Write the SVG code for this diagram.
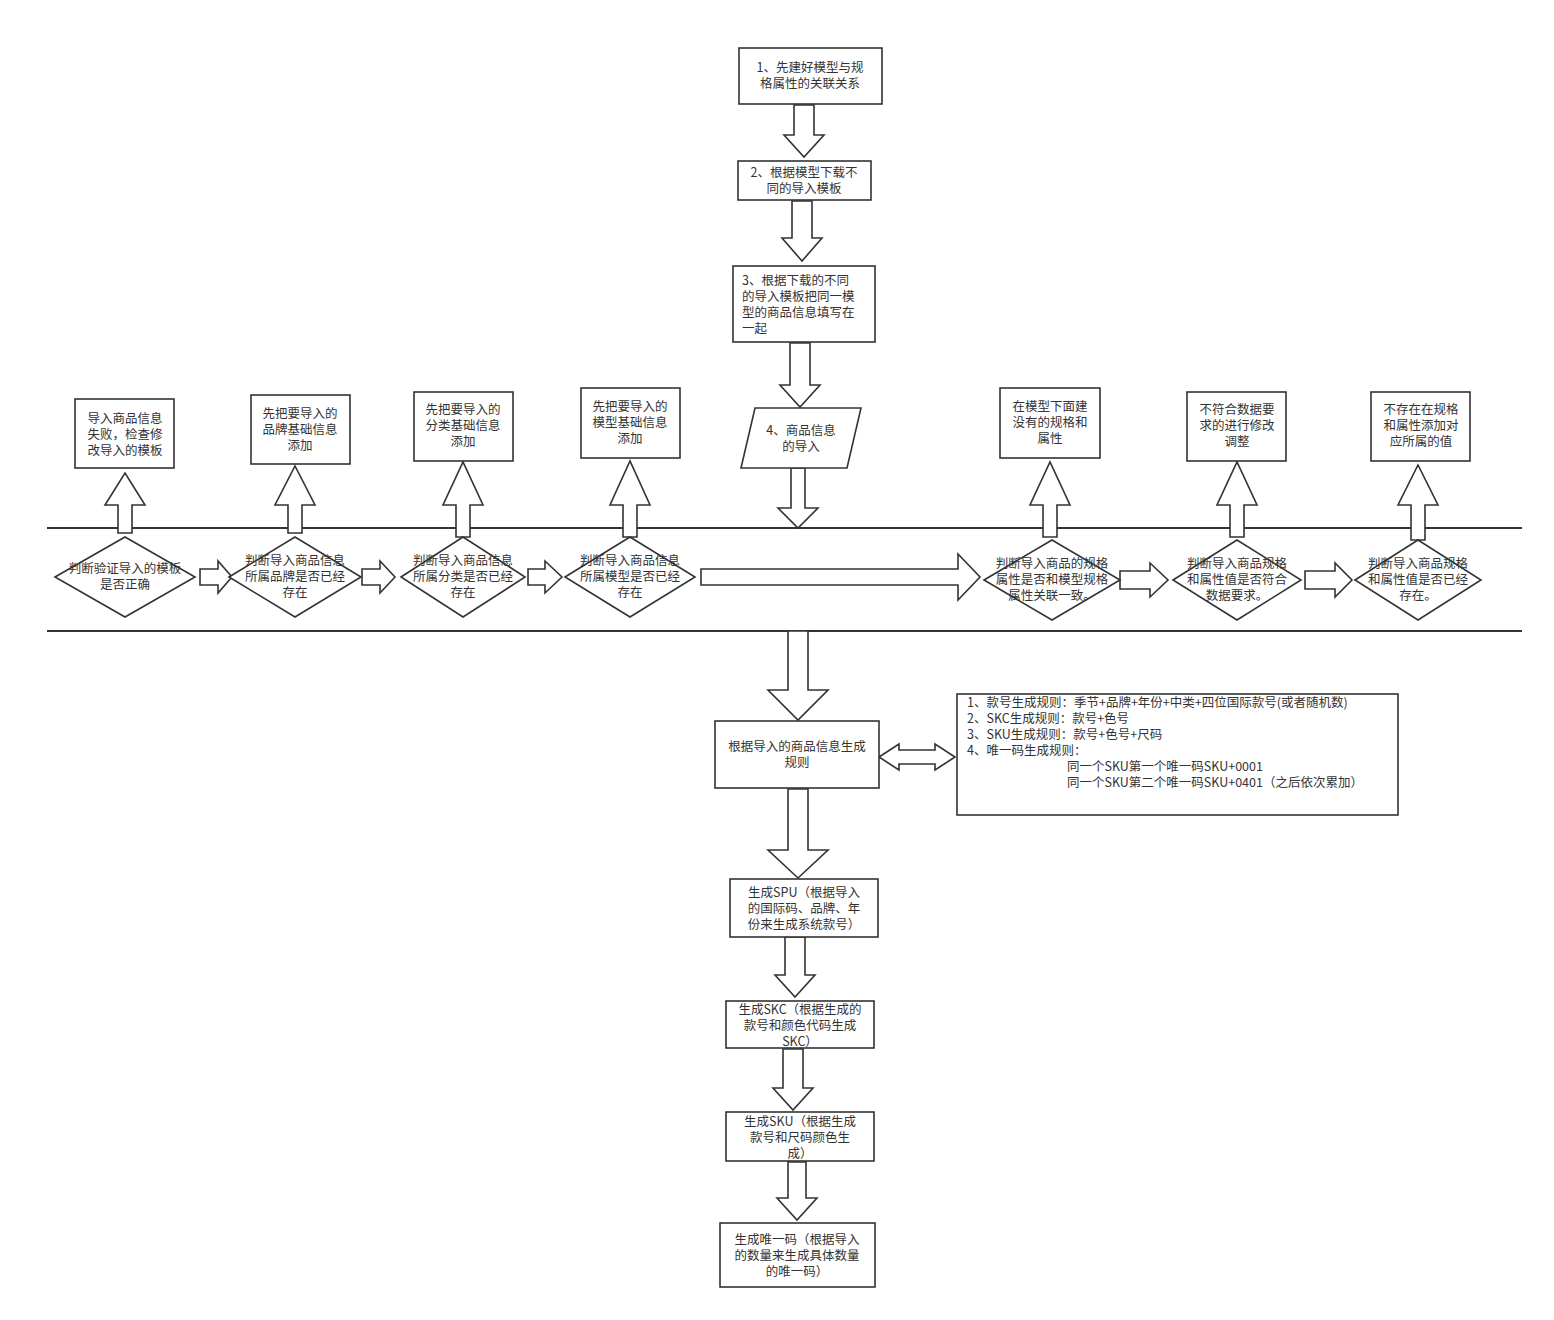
<svg xmlns="http://www.w3.org/2000/svg" width="1554" height="1320" viewBox="0 0 1554 1320">
<style>
rect,polygon{fill:#fff;stroke:#333;stroke-width:1.6}
.ar polygon{fill:#fff;stroke:#333;stroke-width:1.6}
line{stroke:#333;stroke-width:2}
text{font-family:"Noto Sans CJK SC","Liberation Sans",sans-serif;font-size:12.5px;fill:#333;text-anchor:middle}
.l{text-anchor:start}
</style>
<rect x="0" y="0" width="1554" height="1320" style="fill:#fff;stroke:none"/>
<g id="lanes"><line x1="47" y1="528" x2="1522" y2="528"/><line x1="47" y1="631" x2="1522" y2="631"/></g>
<g id="connectors" class="ar">
<polygon points="794,105 814,105 814,135 824,135 804,157 784,135 794,135"/>
<polygon points="792,201 812,201 812,238 822,238 802,261 782,238 792,238"/>
<polygon points="790,343 810,343 810,385 820,385 800,407 780,385 790,385"/>
<polygon points="791,468 805,468 805,508 818,508 798,528 778,508 791,508"/>
<polygon points="788,631 808,631 808,690 828,690 798,720 768,690 788,690"/>
<polygon points="788,789 808,789 808,850 828,850 798,878 768,850 788,850"/>
<polygon points="785,937 805,937 805,975 815,975 795,997 775,975 785,975"/>
<polygon points="783,1049 803,1049 803,1088 813,1088 793,1110 773,1088 783,1088"/>
<polygon points="788,1162 806,1162 806,1198 817,1198 797,1220 777,1198 788,1198"/>
<polygon points="118,533 132,533 132,505 145,505 125,473 105,505 118,505"/>
<polygon points="288,533 302,533 302,505 315,505 295,466 275,505 288,505"/>
<polygon points="456,537 470,537 470,505 483,505 463,462 443,505 456,505"/>
<polygon points="623,537 637,537 637,505 650,505 630,461 610,505 623,505"/>
<polygon points="1043,537 1057,537 1057,505 1070,505 1050,462 1030,505 1043,505"/>
<polygon points="1230,537 1244,537 1244,505 1257,505 1237,462 1217,505 1230,505"/>
<polygon points="1411,540 1425,540 1425,505 1438,505 1418,465 1398,505 1411,505"/>
<polygon points="200,569 218,569 218,561 232,577 218,593 218,585 200,585"/>
<polygon points="362,569 380,569 380,561 395,577 380,593 380,585 362,585"/>
<polygon points="528,569 545,569 545,561 562,577 545,593 545,585 528,585"/>
<polygon points="701,569 958,569 958,554 980,577 958,600 958,585 701,585"/>
<polygon points="1120,571 1150,571 1150,563 1168,580 1150,597 1150,589 1120,589"/>
<polygon points="1305,571 1335,571 1335,563 1352,580 1335,597 1335,589 1305,589"/>
<polygon points="879,757 899,744 899,750 935,750 935,744 955,757 935,770 935,764 899,764 899,770"/>
</g>
<g id="n1"><rect x="739" y="48" width="143" height="56"/><text x="810" y="72">1、先建好模型与规</text><text x="810" y="88">格属性的关联关系</text></g>
<g id="n2"><rect x="738" y="161" width="133" height="39"/><text x="804" y="177">2、根据模型下载不</text><text x="804" y="193">同的导入模板</text></g>
<g id="n3"><rect x="733" y="266" width="142" height="76"/><text class="l" x="742" y="285">3、根据下载的不同</text><text class="l" x="742" y="301">的导入模板把同一模</text><text class="l" x="742" y="317">型的商品信息填写在</text><text class="l" x="742" y="333">一起</text></g>
<g id="n4"><polygon points="755,408 861,408 847,468 741,468"/><text x="801" y="435">4、商品信息</text><text x="801" y="451">的导入</text></g>
<g id="t1"><rect x="75" y="399" width="99" height="69"/><text x="125" y="423">导入商品信息</text><text x="125" y="439">失败，检查修</text><text x="125" y="455">改导入的模板</text></g>
<g id="t2"><rect x="251" y="395" width="99" height="69"/><text x="300" y="418">先把要导入的</text><text x="300" y="434">品牌基础信息</text><text x="300" y="450">添加</text></g>
<g id="t3"><rect x="414" y="392" width="99" height="69"/><text x="463" y="414">先把要导入的</text><text x="463" y="430">分类基础信息</text><text x="463" y="446">添加</text></g>
<g id="t4"><rect x="581" y="388" width="99" height="70"/><text x="630" y="411">先把要导入的</text><text x="630" y="427">模型基础信息</text><text x="630" y="443">添加</text></g>
<g id="t5"><rect x="1000" y="388" width="100" height="70"/><text x="1050" y="411">在模型下面建</text><text x="1050" y="427">没有的规格和</text><text x="1050" y="443">属性</text></g>
<g id="t6"><rect x="1187" y="392" width="99" height="69"/><text x="1237" y="414">不符合数据要</text><text x="1237" y="430">求的进行修改</text><text x="1237" y="446">调整</text></g>
<g id="t7"><rect x="1371" y="392" width="99" height="69"/><text x="1421" y="414">不存在在规格</text><text x="1421" y="430">和属性添加对</text><text x="1421" y="446">应所属的值</text></g>
<g id="d1"><polygon points="55,577 125,537 195,577 125,617"/><text x="125" y="573">判断验证导入的模板</text><text x="125" y="589">是否正确</text></g>
<g id="d2"><polygon points="229,577 295,537 361,577 295,617"/><text x="295" y="565">判断导入商品信息</text><text x="295" y="581">所属品牌是否已经</text><text x="295" y="597">存在</text></g>
<g id="d3"><polygon points="401,577 463,537 525,577 463,617"/><text x="463" y="565">判断导入商品信息</text><text x="463" y="581">所属分类是否已经</text><text x="463" y="597">存在</text></g>
<g id="d4"><polygon points="565,577 630,537 695,577 630,617"/><text x="630" y="565">判断导入商品信息</text><text x="630" y="581">所属模型是否已经</text><text x="630" y="597">存在</text></g>
<g id="d5"><polygon points="984,580 1052,540 1120,580 1052,620"/><text x="1052" y="568">判断导入商品的规格</text><text x="1052" y="584">属性是否和模型规格</text><text x="1052" y="600">属性关联一致。</text></g>
<g id="d6"><polygon points="1173,580 1237,540 1301,580 1237,620"/><text x="1237" y="568">判断导入商品规格</text><text x="1237" y="584">和属性值是否符合</text><text x="1237" y="600">数据要求。</text></g>
<g id="d7"><polygon points="1355,580 1418,540 1481,580 1418,620"/><text x="1418" y="568">判断导入商品规格</text><text x="1418" y="584">和属性值是否已经</text><text x="1418" y="600">存在。</text></g>
<g id="rule"><rect x="715" y="721" width="164" height="67"/><text x="797" y="751">根据导入的商品信息生成</text><text x="797" y="767">规则</text></g>
<g id="info"><rect x="957" y="694" width="441" height="121"/>
<text class="l" x="967" y="707">1、款号生成规则：季节+品牌+年份+中类+四位国际款号(或者随机数)</text>
<text class="l" x="967" y="723">2、SKC生成规则：款号+色号</text>
<text class="l" x="967" y="739">3、SKU生成规则：款号+色号+尺码</text>
<text class="l" x="967" y="755">4、唯一码生成规则：</text>
<text class="l" x="1067" y="771">同一个SKU第一个唯一码SKU+0001</text>
<text class="l" x="1067" y="787">同一个SKU第二个唯一码SKU+0401（之后依次累加）</text></g>
<g id="spu"><rect x="730" y="879" width="148" height="58"/><text x="804" y="897">生成SPU（根据导入</text><text x="804" y="913">的国际码、品牌、年</text><text x="804" y="929">份来生成系统款号）</text></g>
<g id="skc"><rect x="726" y="1001" width="148" height="47"/><text x="800" y="1014">生成SKC（根据生成的</text><text x="800" y="1030">款号和颜色代码生成</text><text x="800" y="1046">SKC）</text></g>
<g id="sku"><rect x="726" y="1112" width="148" height="49"/><text x="800" y="1126">生成SKU（根据生成</text><text x="800" y="1142">款号和尺码颜色生</text><text x="800" y="1158">成）</text></g>
<g id="uid"><rect x="720" y="1223" width="155" height="64"/><text x="797" y="1244">生成唯一码（根据导入</text><text x="797" y="1260">的数量来生成具体数量</text><text x="797" y="1276">的唯一码）</text></g>
</svg>
